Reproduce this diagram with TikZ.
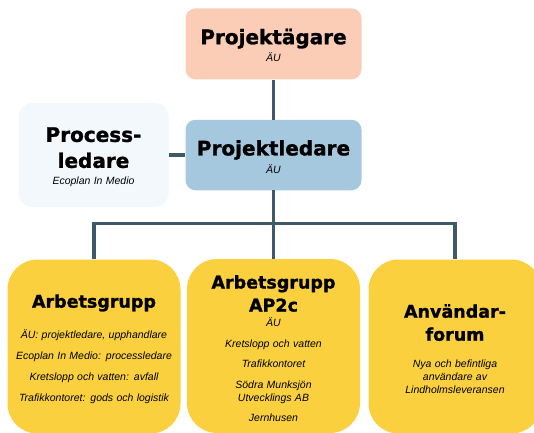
\documentclass[tikz,border=0pt]{standalone}
\usepackage{fontspec}
\setmainfont{Liberation Sans}
\newfontfamily\headfont{DejaVu Sans}[BoldFeatures={FakeBold=1.3}]
\usetikzlibrary{positioning}

\definecolor{ownerpeach}{HTML}{FBCDB7}
\definecolor{leaderblue}{HTML}{A5C8DF}
\definecolor{processwhite}{HTML}{F2F8FC}
\definecolor{groupyellow}{HTML}{FAD03E}
\definecolor{linkslate}{HTML}{3E5A68}

\newcommand{\hd}{\headfont\bfseries\fontsize{20}{26}\selectfont}
\newcommand{\hdsmall}{\headfont\bfseries\fontsize{17.5}{23}\selectfont}
\newcommand{\sm}{\itshape\fontsize{10.5}{13}\selectfont}

\begin{document}
\begin{tikzpicture}[x=1pt, y=-1pt, line join=miter,
		box/.style={rectangle, align=center, inner sep=0pt, text width=#1-6pt, minimum width=#1,
			execute at begin node=\rule{0pt}{18.5pt}},
		topbox/.style={box=176, minimum height=71, rounded corners=10pt},
		groupbox/.style={box=173, minimum height=174, rounded corners=30pt, fill=groupyellow},
		link/.style={draw=linkslate, line width=3.2pt}]
	\useasboundingbox (0,0) rectangle (534,432);

	\node[topbox, fill=ownerpeach] (owner) at (273.5,43.8)
		{{\hd Projektägare\par}\vspace{3.5pt}{\sm ÄU\par}};
	\node[topbox, fill=leaderblue, minimum height=70.5] (leader) at (273.5,155)
		{{\hd Projektledare\par}\vspace{3.5pt}{\sm ÄU\par}};
	\node[box=150, minimum height=104, rounded corners=14pt, fill=processwhite] (process) at (93.5,155)
		{{\hd Process-\\ledare\par}\vspace{3.6pt}{\sm Ecoplan In Medio\par}};

	\node[groupbox] (group) at (94,346.5)
		{{\hdsmall Arbetsgrupp\par}\vspace{18pt}
		{\sm ÄU: projektledare, upphandlare\\[8pt]
		Ecoplan In Medio: processledare\\[8pt]
		Kretslopp och vatten: avfall\\[8pt]
		Trafikkontoret: gods och logistik\par}};
	\node[groupbox] (ap2c) at (273.5,346)
		{{\hdsmall Arbetsgrupp\\AP2c\par}\vspace{2pt}
		{\sm ÄU\\[7.6pt]
		Kretslopp och vatten\\[7.6pt]
		Trafikkontoret\\[7.6pt]
		Södra Munksjön\\Utvecklings AB\\[7.6pt]
		Jernhusen\par}};
	\node[groupbox] (forum) at (455,346.5)
		{{\hdsmall Användar-\\forum\par}\vspace{14pt}
		{\sm Nya och befintliga\\användare av\\Lindholmsleveransen\par}};

	\coordinate (bus) at (273.5,223.5);
	\draw[link] (owner) -- (leader);
	\draw[link] (process) -- (leader);
	\draw[link] (leader) -- (ap2c);
	\draw[link] (group.north) |- (bus) -| (forum.north);
\end{tikzpicture}
\end{document}
